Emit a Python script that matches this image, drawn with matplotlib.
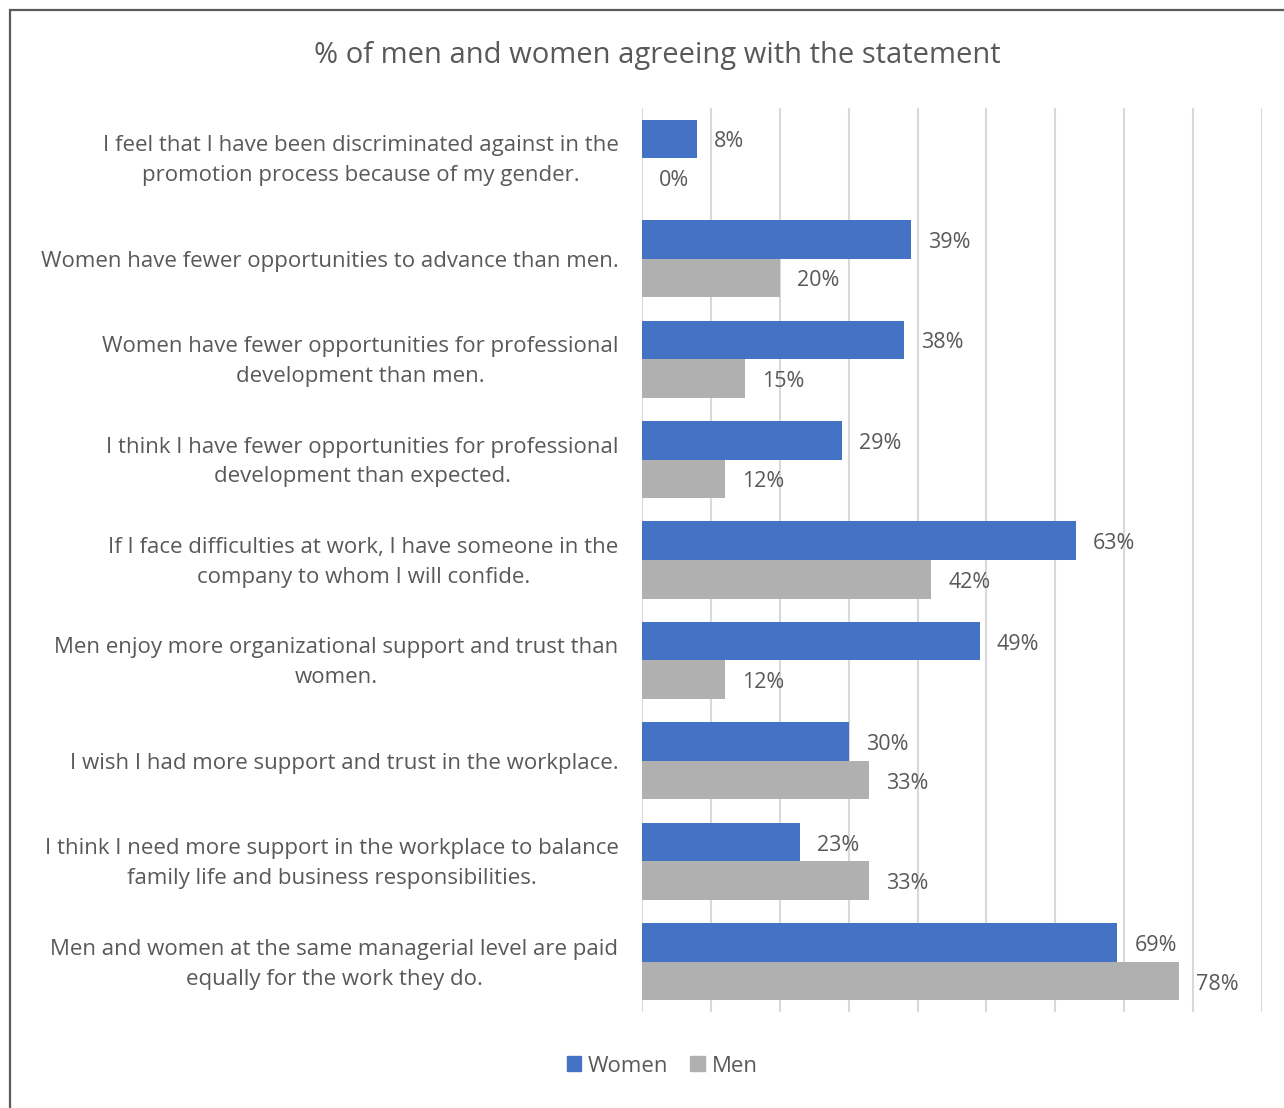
import matplotlib.pyplot as plt
import matplotlib.transforms as mtransforms
from matplotlib.patches import Rectangle, Patch

statements = [
    'I feel that I have been discriminated against in the\npromotion process because of my gender.',
    'Women have fewer opportunities to advance than men.',
    'Women have fewer opportunities for professional\ndevelopment than men.',
    'I think I have fewer opportunities for professional\ndevelopment than expected.',
    'If I face difficulties at work, I have someone in the\ncompany to whom I will confide.',
    'Men enjoy more organizational support and trust than\nwomen.',
    'I wish I had more support and trust in the workplace.',
    'I think I need more support in the workplace to balance\nfamily life and business responsibilities.',
    'Men and women at the same managerial level are paid\nequally for the work they do.',
]
women = [8, 39, 38, 29, 63, 49, 30, 23, 69]
men = [0, 20, 15, 12, 42, 12, 33, 33, 78]

BLUE = '#4472C4'
GRAY = '#B0B0B1'
TEXT = '#595959'

plt.rcParams['font.family'] = ['Open Sans', 'DejaVu Sans']

fig = plt.figure(figsize=(12.84, 11.08), dpi=100)
ax = fig.add_axes([642 / 1284, 1 - 1012 / 1108, 620 / 1284, 904 / 1108])

h = 0.3835
ys = list(range(len(statements)))
yw = [y - h / 2 for y in ys]
ym = [y + h / 2 for y in ys]
ax.barh(yw, women, height=h, color=BLUE, zorder=3)
ax.barh(ym, men, height=h, color=GRAY, zorder=3)

for vals, pos in ((women, yw), (men, ym)):
    for y, v in zip(pos, vals):
        ax.annotate(f'{v}%', xy=(v, y), xytext=(17, -3), textcoords='offset pixels',
                    va='center', ha='left', fontsize=15.5, color=TEXT)

ax.set_xlim(0, 90)
ax.set_ylim(len(statements) - 0.5, -0.5)
ax.set_xticks(range(0, 91, 10))
ax.set_xticklabels([])
ax.grid(axis='x', color='#D9D9D9', linewidth=1.5, zorder=0)
ax.tick_params(axis='both', length=0)
for s in ax.spines.values():
    s.set_visible(False)
ax.set_yticks(ys)
ax.set_yticklabels(statements, fontsize=16, color=TEXT, multialignment='center',
                   linespacing=1.55)
ax.tick_params(axis='y', pad=17)

# two-line labels sit a little high so they are centred on the category
shift = mtransforms.ScaledTranslation(0, 4.5 / 100, fig.dpi_scale_trans)
for lbl in ax.get_yticklabels():
    if '\n' in lbl.get_text():
        lbl.set_transform(lbl.get_transform() + shift)

fig.text(657 / 1284, 1 - 56 / 1108, '% of men and women agreeing with the statement',
         ha='center', va='center', fontsize=21, color=TEXT)

fig.legend(handles=[Patch(color=BLUE, label='Women'), Patch(color=GRAY, label='Men')],
           loc='center', bbox_to_anchor=(662 / 1284, 1 - 1066 / 1108), ncol=2,
           frameon=False, fontsize=16, labelcolor=TEXT, handlelength=0.65,
           handleheight=0.65, handletextpad=0.3, columnspacing=1.0)

# outer chart frame
fig.patches.append(Rectangle((10 / 1284, -0.05), 1.2, 1 - 10 / 1108 + 0.05,
                             transform=fig.transFigure, fill=False,
                             edgecolor='#5A5A5A', linewidth=1.6))

fig.savefig('out.png', dpi=100, facecolor='white')
